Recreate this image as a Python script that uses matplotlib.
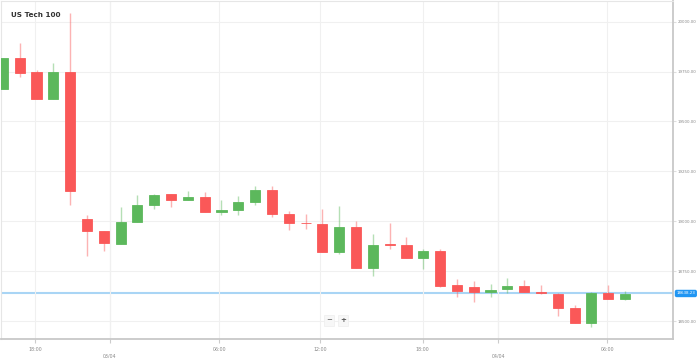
import numpy as np
import matplotlib
matplotlib.use("Agg")
import matplotlib.pyplot as plt

# hourly candles, US Tech 100, 02/04 evening -> 04/04 morning
opens = [19665, 19816, 19746, 19613, 19746, 19013, 18950, 18888, 18998, 19081,
         19136, 19105, 19123, 19046, 19055, 19095, 19155, 19036, 18993, 18988,
         18848, 18970, 18766, 18885, 18883, 18816, 18851, 18681, 18670, 18648,
         18660, 18678, 18647, 18638, 18565, 18488, 18643, 18613]
highs = [19816, 19891, 19760, 19795, 20041, 19033, 18950, 19071, 19130, 19135,
         19136, 19153, 19145, 19105, 19128, 19176, 19176, 19050, 19038, 19063,
         19076, 19003, 18935, 18991, 18921, 18863, 18863, 18713, 18700, 18688,
         18718, 18705, 18683, 18640, 18578, 18645, 18680, 18651]
lows = [19665, 19721, 19613, 19613, 19080, 18825, 18851, 18888, 18998, 19063,
        19071, 19105, 19045, 19030, 19030, 19080, 19021, 18955, 18961, 18848,
        18838, 18766, 18725, 18863, 18816, 18760, 18671, 18621, 18596, 18621,
        18641, 18645, 18638, 18526, 18488, 18468, 18613, 18605]
closes = [19816, 19741, 19613, 19746, 19153, 18950, 18891, 18998, 19081, 19133,
          19105, 19123, 19045, 19056, 19095, 19155, 19038, 18991, 18990, 18848,
          18971, 18766, 18883, 18880, 18816, 18851, 18676, 18653, 18648, 18658,
          18678, 18645, 18640, 18565, 18488, 18643, 18613, 18638]

last_price = 18638.23
price_label = "18638.23"

y_ticks = [18500, 18750, 19000, 19250, 19500, 19750, 20000]
# positions on the candle index axis (session break around midnight)
x_tick_pos = [1.9, 6.36, 12.87, 18.86, 24.97, 29.45, 35.95]
x_tick_labels = ["18:00", "\n03/04", "06:00", "12:00", "18:00", "\n04/04", "06:00"]

red = "#fa5858"
green = "#5cb85c"

fig = plt.figure(figsize=(6.99, 3.58), dpi=100)
ax = fig.add_axes([0.002, 0.053, 0.961, 0.945])

x = np.arange(len(opens))
o = np.array(opens)
c = np.array(closes)
up = c >= o
colors = [green if u else red for u in up]

ax.vlines(x, lows, highs, colors=colors, linewidth=1, alpha=0.45, zorder=2)
bottoms = np.minimum(o, c)
heights = np.maximum(np.abs(c - o), 3)
ax.bar(x, heights, bottom=bottoms, width=0.6, color=colors,
       edgecolor=colors, linewidth=0.6, zorder=3)

ax.axhline(last_price, color="#a9d5f5", linewidth=1.5, zorder=1)

ax.set_xlim(-0.09, 39.86)
ax.set_ylim(18410, 20105)

ax.set_yticks(y_ticks)
ax.set_yticklabels(["%.2f" % v for v in y_ticks])
ax.yaxis.tick_right()
ax.tick_params(axis="y", length=2, color="#dddddd", labelsize=2.9,
               labelcolor="#888888", pad=1)

ax.set_xticks(x_tick_pos)
ax.set_xticklabels(x_tick_labels)
ax.tick_params(axis="x", length=3, color="#cccccc", labelsize=3.4,
               labelcolor="#888888", pad=3)

ax.grid(True, color="#f0f0f0", linewidth=0.8, zorder=0)
for p in [6.36, 29.45]:
    ax.axvline(p, color="#e2e2e2", linewidth=0.8, zorder=0)

for side in ["left", "top"]:
    ax.spines[side].set_color("#e6e6e6")
    ax.spines[side].set_linewidth(0.8)
for side in ["bottom", "right"]:
    ax.spines[side].set_color("#c8c8c8")
    ax.spines[side].set_linewidth(1.3)

ax.text(0.015, 0.968, "US Tech 100", transform=ax.transAxes, fontsize=5.2,
        fontweight="bold", color="#333333", va="top", ha="left")

# price tag on the right axis
ax.text(1.005, last_price, price_label, transform=ax.get_yaxis_transform(),
        fontsize=2.9, color="white", va="center", ha="left",
        bbox=dict(boxstyle="round,pad=0.25,rounding_size=0.3",
                  facecolor="#2196f3", edgecolor="#2196f3"),
        clip_on=False)

# zoom buttons
ax.text(0.488, 0.055, "\u2212", transform=ax.transAxes, fontsize=5,
        color="#555555", ha="center", va="center",
        bbox=dict(boxstyle="square,pad=0.3", facecolor="#f7f7f7",
                  edgecolor="#eeeeee", linewidth=0.5))
ax.text(0.509, 0.055, "+", transform=ax.transAxes, fontsize=5,
        color="#555555", ha="center", va="center", fontweight="bold",
        bbox=dict(boxstyle="square,pad=0.3", facecolor="#f7f7f7",
                  edgecolor="#eeeeee", linewidth=0.5))

fig.savefig("out.png", dpi=100)
